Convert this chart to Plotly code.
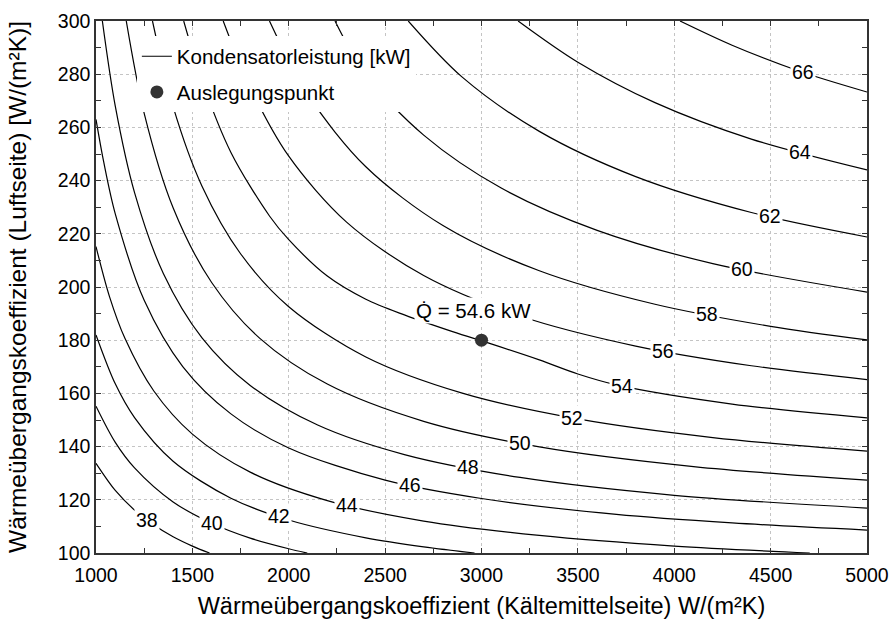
import numpy as np
import plotly.graph_objects as go

# Contour levels of condenser capacity [kW]
LEVELS = [38, 40, 42, 44, 46, 48, 50, 52, 54, 56, 58, 60, 62, 64, 66]

# Points: refrigerant-side coefficient (x) and air-side coefficient (y)
Q38_KR = [1000, 1100, 1200, 1300, 1400, 1500, 1589]
Q38_KL = [133.7, 123.5, 116.1, 110.5, 106.1, 102.6, 100.0]
Q40_KR = [1000, 1100, 1200, 1400, 1600, 1800, 2000, 2096]
Q40_KL = [155.2, 141.6, 132.0, 119.2, 111.2, 105.6, 101.6, 100.0]
Q42_KR = [1000, 1100, 1200, 1400, 1700, 2000, 2400, 2700, 2964]
Q42_KL = [182.0, 163.6, 150.9, 134.5, 120.6, 112.4, 105.7, 102.3, 100.0]
Q44_KR = [1000, 1070, 1150, 1300, 1500, 1800, 2200, 2700, 3300, 4000, 4703]
Q44_KL = [215.2, 196.4, 180.7, 160.9, 144.7, 130.4, 119.7, 112.0, 106.6, 102.6, 100.0]
Q46_KR = [1000, 1040, 1100, 1250, 1450, 1700, 2000, 2500, 3000, 3700, 4300, 5000]
Q46_KL = [263.0, 247.0, 227.5, 195.0, 170.1, 152.3, 139.5, 127.4, 120.5, 114.5, 111.3, 108.6]
Q48_KR = [1033, 1100, 1200, 1350, 1550, 1800, 2150, 2600, 3200, 4000, 5000]
Q48_KL = [300.0, 268.0, 235.5, 205.0, 180.9, 163.0, 148.1, 137.0, 128.4, 121.7, 116.9]
Q50_KR = [1157, 1250, 1400, 1600, 1850, 2200, 2700, 3300, 4100, 5000]
Q50_KL = [300.0, 265.3, 229.8, 201.7, 180.7, 163.5, 149.5, 139.9, 132.5, 127.4]
Q52_KR = [1293, 1400, 1550, 1750, 2000, 2400, 2900, 3500, 4200, 5000]
Q52_KL = [300.0, 267.8, 237.9, 212.5, 192.6, 173.7, 160.1, 150.4, 143.4, 138.3]
Q54_KR = [1455, 1550, 1700, 1900, 2000, 2200, 2400, 2600, 2850, 3050, 3300, 3500, 3700, 4300, 5000]
Q54_KL = [300.0, 277.5, 250.6, 226.7, 217.8, 204.1, 195.4, 189.5, 183.2, 178.6, 172.6, 167.3, 163.2, 156.0, 150.8]
Q56_KR = [1660, 1800, 2000, 2300, 2700, 3200, 3800, 4400, 5000]
Q56_KL = [300.0, 275.1, 249.2, 224.4, 204.3, 189.1, 177.8, 170.4, 165.2]
Q58_KR = [1900, 2100, 2400, 2800, 3300, 3900, 4500, 5000]
Q58_KL = [300.0, 272.2, 245.2, 223.1, 206.1, 193.5, 185.2, 180.1]
Q60_KR = [2240, 2400, 2700, 3100, 3600, 4200, 5000]
Q60_KL = [300.0, 279.7, 257.1, 237.3, 221.3, 208.8, 198.1]
Q62_KR = [2620, 2900, 3300, 3800, 4400, 5000]
Q62_KL = [300.0, 278.9, 258.5, 241.5, 228.0, 218.8]
Q64_KR = [3190, 3500, 3900, 4400, 5000]
Q64_KL = [300.0, 284.5, 269.3, 255.6, 244.0]
Q66_KR = [4030, 4300, 4650, 5000]
Q66_KL = [300.0, 290.9, 281.1, 273.3]

# x position of each inline contour label
LABEL_KR = [1265, 1602, 1949, 2302, 2629, 2930, 3200, 3470, 3729, 3942, 4170, 4352, 4497, 4652, 4668]

# Design point
DESIGN_KR = [3000]
DESIGN_KL = [180]
DESIGN_Q = 54.6

CURVES = [
    (Q38_KR, Q38_KL), (Q40_KR, Q40_KL), (Q42_KR, Q42_KL), (Q44_KR, Q44_KL),
    (Q46_KR, Q46_KL), (Q48_KR, Q48_KL), (Q50_KR, Q50_KL), (Q52_KR, Q52_KL),
    (Q54_KR, Q54_KL), (Q56_KR, Q56_KL), (Q58_KR, Q58_KL), (Q60_KR, Q60_KL),
    (Q62_KR, Q62_KL), (Q64_KR, Q64_KL), (Q66_KR, Q66_KL),
]

FONT = "Liberation Sans, Arial, sans-serif"

fig = go.Figure()
for i, (xs, ys) in enumerate(CURVES):
    fig.add_trace(go.Scatter(
        x=xs, y=ys, mode="lines",
        line=dict(color="black", width=1.2, shape="spline", smoothing=0.9),
        name="Kondensatorleistung [kW]", legendgroup="q",
        showlegend=(i == 0), hoverinfo="skip",
    ))

fig.add_trace(go.Scatter(
    x=DESIGN_KR, y=DESIGN_KL, mode="markers",
    marker=dict(size=13, color="#333333"),
    name="Auslegungspunkt", legendgroup="p",
))

for lvl, (xs, ys), lx in zip(LEVELS, CURVES, LABEL_KR):
    ly = float(np.interp(lx, xs, ys))
    fig.add_annotation(
        x=lx, y=ly, text=str(lvl), showarrow=False,
        font=dict(size=19.5, color="black", family=FONT),
        bgcolor="white", borderpad=1,
    )

fig.add_annotation(
    x=DESIGN_KR[0], y=DESIGN_KL[0], text=f"Q\u0307 = {DESIGN_Q} kW",
    showarrow=False, xshift=-8, yshift=30,
    font=dict(size=20.5, color="black", family=FONT), bgcolor="white", borderpad=1,
)

axis_common = dict(
    ticks="inside", ticklen=5, tickcolor="#333333", tickwidth=1,
    showgrid=True, gridcolor="#c4c4c4", griddash="dot", gridwidth=1,
    showline=True, linecolor="#333333", linewidth=1.5, mirror="ticks",
    zeroline=False, automargin=False,
    tickfont=dict(size=19.5, color="black", family=FONT),
)

fig.update_xaxes(
    range=[1000, 5000], tick0=1000, dtick=500,
    minor=dict(dtick=250, ticks="inside", ticklen=5, tickcolor="#333333", showgrid=False),
    ticklabelstandoff=4,
    title=dict(text="Wärmeübergangskoeffizient (Kältemittelseite) W/(m²K)",
               font=dict(size=23.5, color="black", family=FONT), standoff=16),
    **axis_common,
)
fig.update_yaxes(
    range=[100, 300], tick0=100, dtick=20,
    minor=dict(dtick=10, ticks="inside", ticklen=5, tickcolor="#333333", showgrid=False),
    title=dict(text="Wärmeübergangskoeffizient (Luftseite) [W/(m²K)]",
               font=dict(size=24.5, color="black", family=FONT), standoff=24),
    **axis_common,
)

fig.update_layout(
    width=890, height=619,
    margin=dict(l=96, r=23, t=21, b=66),
    plot_bgcolor="white", paper_bgcolor="white",
    font=dict(family=FONT, color="black"),
    showlegend=True,
    legend=dict(
        x=0.053, y=0.971, xanchor="left", yanchor="top",
        bgcolor="white", borderwidth=0,
        font=dict(size=20.5, color="black", family=FONT),
        traceorder="grouped", tracegroupgap=6,
    ),
)

fig.write_html("out.html")
